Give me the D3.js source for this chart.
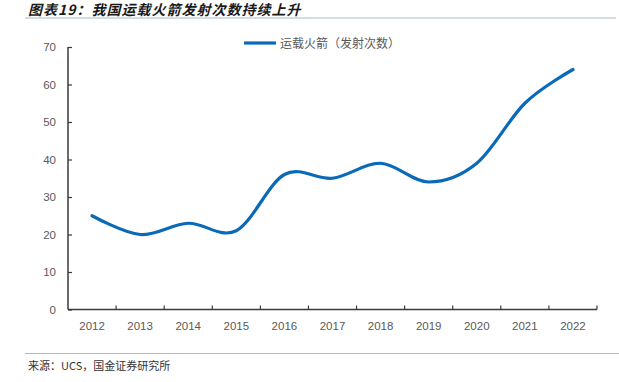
<!DOCTYPE html>
<html>
<head>
<meta charset="utf-8">
<script src="https://cdn.jsdelivr.net/npm/d3@7"></script>
<style>
  body { margin: 0; background: #fff; }
  svg text { font-family: "Liberation Sans", Arial, "Noto Sans CJK SC", sans-serif; }
</style>
</head>
<body>
<div id="chart"></div>
<script>
// data
const years = ["2012", "2013", "2014", "2015", "2016", "2017", "2018", "2019", "2020", "2021", "2022"];
const launches = [25, 20, 23, 21, 36, 35, 39, 34, 39, 55, 64];
const yTicks = [0, 10, 20, 30, 40, 50, 60, 70];
const seriesName = "运载火箭（发射次数）";

const W = 619, H = 382;
const margin = { top: 47, right: 22, bottom: 72.5, left: 68 };

const svg = d3.select('#chart')
    .append('svg')
    .attr('width', W)
    .attr('height', H);

// title + rules
svg.append("text")
    .attr("x", 28)
    .attr("y", 15)
    .attr("font-size", 14)
    .attr("font-weight", "bold")
    .attr("font-style", "italic")
    .attr("letter-spacing", 1)
    .attr("fill", "#1a1a1a")
    .style("font-family", '"Noto Sans CJK SC", sans-serif')
    .text("图表19：我国运载火箭发射次数持续上升");

svg.append("line")
    .attr("x1", 25).attr("x2", 616)
    .attr("y1", 18).attr("y2", 18)
    .attr("stroke", "#a9bccd")
    .attr("stroke-width", 1.2);

svg.append("line")
    .attr("x1", 25).attr("x2", 619)
    .attr("y1", 353.5).attr("y2", 353.5)
    .attr("stroke", "#a9bccd")
    .attr("stroke-width", 1.2);

svg.append("text")
    .attr("x", 28)
    .attr("y", 370)
    .attr("font-size", 11)
    .attr("fill", "#333")
    .style("font-family", '"Noto Sans CJK SC", sans-serif')
    .text("来源：UCS，国金证券研究所");

// scales
const x = d3.scaleBand()
    .domain(years)
    .range([margin.left, W - margin.right]);

const y = d3.scaleLinear()
    .domain([0, 70])
    .range([H - margin.bottom, margin.top]);

// x axis: ticks at category boundaries, pointing up
const xAxisG = svg.append("g");
xAxisG.append("line")
    .attr("x1", x.range()[0]).attr("x2", x.range()[1])
    .attr("y1", y(0)).attr("y2", y(0))
    .attr("stroke", "#3a3a3a").attr("stroke-width", 1.5);

const bounds = years.map(d => x(d)).concat([x.range()[1]]).slice(1);
xAxisG.selectAll(".xt")
    .data(bounds)
    .join("line")
    .attr("class", "xt")
    .attr("x1", d => d).attr("x2", d => d)
    .attr("y1", y(0)).attr("y2", y(0) - 4)
    .attr("stroke", "#3a3a3a").attr("stroke-width", 1.2);

xAxisG.selectAll(".xl")
    .data(years)
    .join("text")
    .attr("class", "xl")
    .attr("x", d => x(d) + x.bandwidth() / 2)
    .attr("y", y(0) + 20)
    .attr("text-anchor", "middle")
    .attr("font-size", 11.5)
    .attr("fill", "#595959")
    .text(d => d);

// y axis: ticks pointing right
const yAxis = d3.axisRight(y).tickValues(yTicks).tickSize(4).tickFormat(d3.format("d"));
const yAxisG = svg.append("g")
    .attr("transform", `translate(${margin.left}, 0)`)
    .call(yAxis);
yAxisG.select(".domain")
    .attr("stroke", "#3a3a3a").attr("stroke-width", 1.5)
    .attr("d", `M0,${y(0)}V${y(70)}`);
yAxisG.selectAll(".tick line").attr("stroke", "#3a3a3a").attr("stroke-width", 1.2);
yAxisG.selectAll(".tick text")
    .attr("x", -12)
    .attr("text-anchor", "end")
    .attr("font-size", 11.5)
    .attr("fill", "#595959");

// series
const line = d3.line()
    .x((d, i) => x(years[i]) + x.bandwidth() / 2)
    .y(d => y(d))
    .curve(d3.curveCardinal.tension(0));

svg.append("path")
    .datum(launches)
    .attr("d", line)
    .attr("fill", "none")
    .attr("stroke", "#0a6ab8")
    .attr("stroke-width", 3.2)
    .attr("stroke-linecap", "round");

// legend
svg.append("line")
    .attr("x1", 244).attr("x2", 276)
    .attr("y1", 43).attr("y2", 43)
    .attr("stroke", "#0a6ab8")
    .attr("stroke-width", 3.2);

svg.append("text")
    .attr("x", 280)
    .attr("y", 47.5)
    .attr("font-size", 12)
    .attr("fill", "#595959")
    .style("font-family", '"Noto Sans CJK SC", sans-serif')
    .text(seriesName);
</script>
</body>
</html>
